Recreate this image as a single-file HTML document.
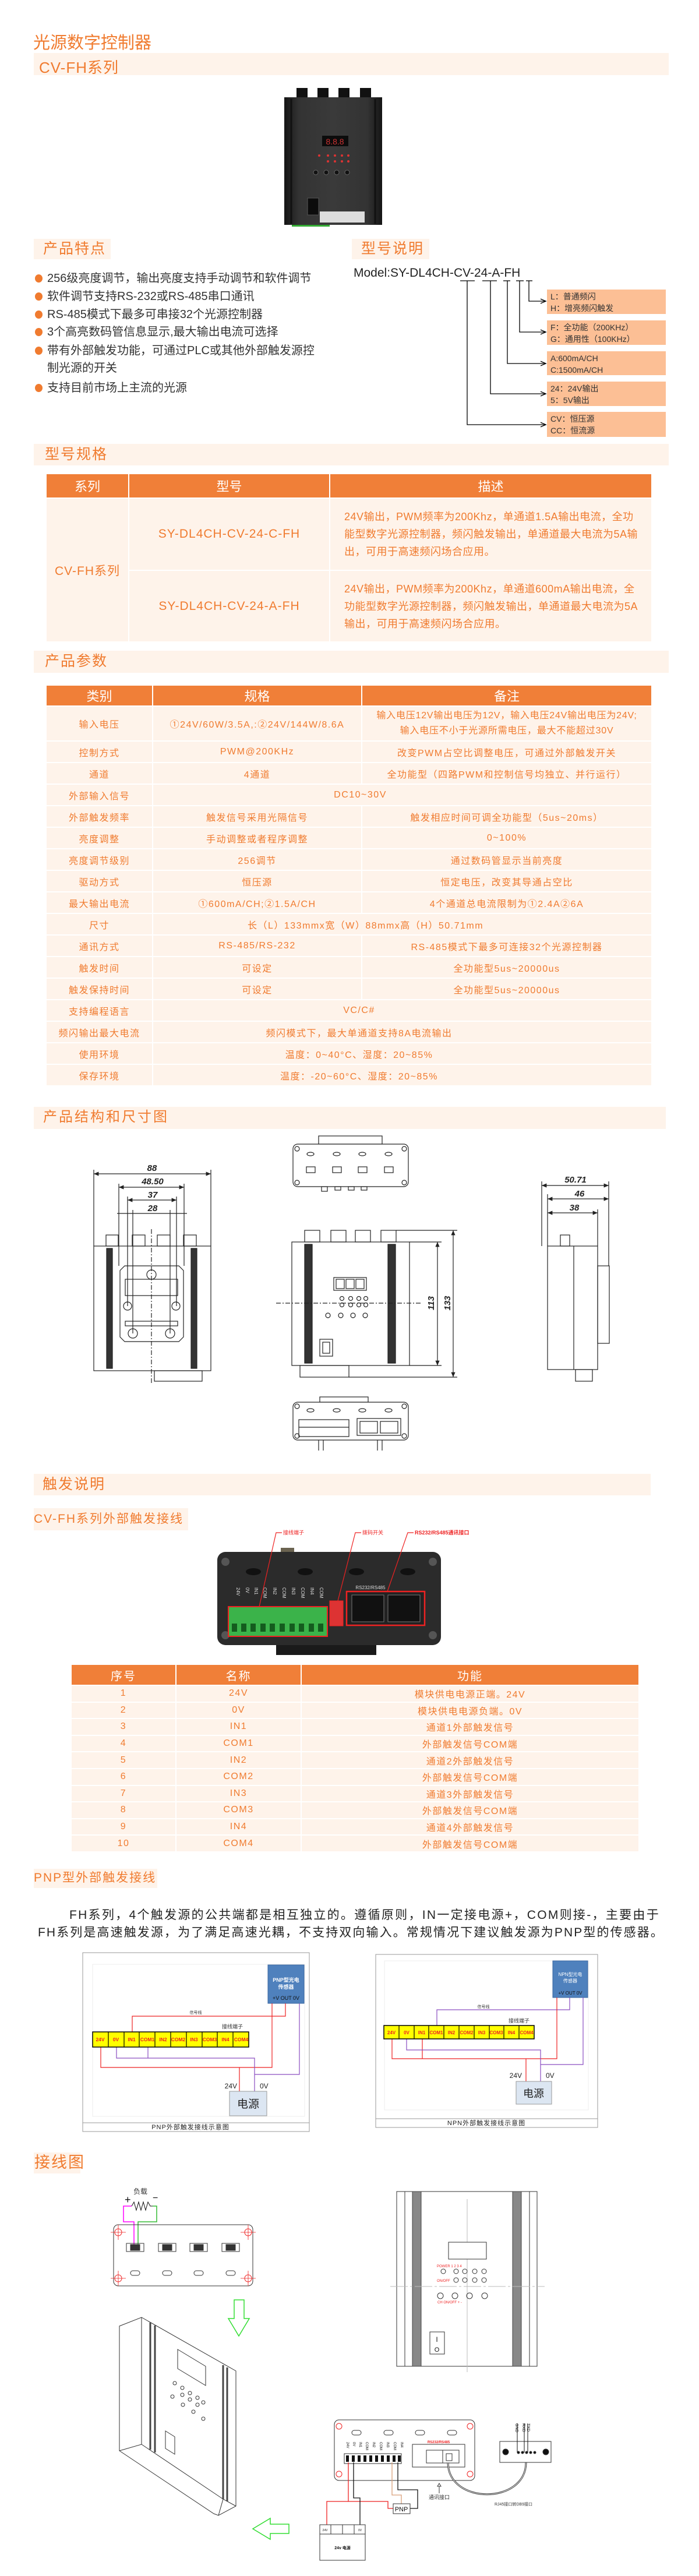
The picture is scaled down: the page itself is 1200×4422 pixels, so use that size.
<!DOCTYPE html>
<html><head><meta charset="utf-8">
<style>
*{margin:0;padding:0;box-sizing:border-box}
body{width:1200px;height:4422px;background:#fff;position:relative;overflow:hidden;font-family:"Liberation Sans","Noto Sans CJK SC",sans-serif;color:#f07b2f}
.a{position:absolute;white-space:nowrap}
.band{position:absolute;background:#fef3ea}
.bt{position:absolute;color:#f07b2f;font-size:25px;letter-spacing:2px;line-height:1}
.bul{position:absolute;left:60px;width:13px;height:14px;border-radius:50%;background:#f07b2f}
.btx{position:absolute;left:81px;font-size:20px;color:#333;white-space:nowrap;line-height:1}
.box{position:absolute;left:939px;width:204px;background:#fcbf95;color:#333;font-size:14px;line-height:20px;padding:2px 6px}
table{border-collapse:collapse;position:absolute;table-layout:fixed}
td,th{border:2px solid #fff;text-align:center;vertical-align:middle;color:#f07b2f;padding:0}
th{background:#f07f38;color:#fff;font-weight:normal}
td{background:#fef3ea}
#t2 td{font-size:15px;letter-spacing:1.2px}
#t3 td{font-size:16px;letter-spacing:1.5px}
</style></head><body>

<div class="a" style="left:57px;top:50px;font-size:29px;color:#f07b2f">光源数字控制器</div>
<div class="band" style="left:58px;top:91px;width:1090px;height:38px"></div>
<div class="a" style="left:67px;top:96px;font-size:26px;letter-spacing:1px">CV-FH系列</div>

<div class="band" style="left:58px;top:410px;width:132px;height:35px"></div>
<div class="bt" style="left:74px;top:415px">产品特点</div>
<div class="band" style="left:604px;top:410px;width:133px;height:35px"></div>
<div class="bt" style="left:620px;top:415px">型号说明</div>

<div class="bul" style="top:471px"></div><div class="btx" style="top:468px">256级亮度调节，输出亮度支持手动调节和软件调节</div>
<div class="bul" style="top:502px"></div><div class="btx" style="top:499px">软件调节支持RS-232或RS-485串口通讯</div>
<div class="bul" style="top:533px"></div><div class="btx" style="top:530px">RS-485模式下最多可串接32个光源控制器</div>
<div class="bul" style="top:563px"></div><div class="btx" style="top:560px">3个高亮数码管信息显示,最大输出电流可选择</div>
<div class="bul" style="top:595px"></div><div class="btx" style="top:592px">带有外部触发功能，可通过PLC或其他外部触发源控</div>
<div class="btx" style="top:622px">制光源的开关</div>
<div class="bul" style="top:659px"></div><div class="btx" style="top:656px">支持目前市场上主流的光源</div>

<div class="a" style="left:607px;top:457px;font-size:21px;color:#222">Model:SY-DL4CH-CV-24-A-FH</div>
<div class="box" style="top:497px;height:42px">L：普通频闪<br>H：增亮频闪触发</div>
<div class="box" style="top:550px;height:42px">F：全功能（200KHz）<br>G：通用性（100KHz）</div>
<div class="box" style="top:603px;height:41px">A:600mA/CH<br>C:1500mA/CH</div>
<div class="box" style="top:655px;height:42px">24：24V输出<br>5：5V输出</div>
<div class="box" style="top:707px;height:43px">CV：恒压源<br>CC：恒流源</div>

<div class="band" style="left:58px;top:762px;width:1090px;height:37px"></div>
<div class="bt" style="left:77px;top:768px">型号规格</div>
<table id="t2" style="left:78px;top:812px;width:1040px">
<colgroup><col style="width:142px"><col style="width:345px"><col style="width:553px"></colgroup>
<tr style="height:42px"><th style="font-size:22px">系列</th><th style="font-size:22px">型号</th><th style="font-size:22px">描述</th></tr>
<tr style="height:124px"><td rowspan="2" style="font-size:21px;letter-spacing:1px">CV-FH系列</td><td style="font-size:21px;letter-spacing:1px">SY-DL4CH-CV-24-C-FH</td><td style="text-align:left;padding:0 14px 0 24px;line-height:30px;font-size:18px;letter-spacing:.5px">24V输出，PWM频率为200Khz，单通道1.5A输出电流，全功能型数字光源控制器，频闪触发输出，单通道最大电流为5A输出，可用于高速频闪场合应用。</td></tr>
<tr style="height:123px"><td style="font-size:21px;letter-spacing:1px">SY-DL4CH-CV-24-A-FH</td><td style="text-align:left;padding:0 14px 0 24px;line-height:30px;font-size:18px;letter-spacing:.5px">24V输出，PWM频率为200Khz，单通道600mA输出电流，全功能型数字光源控制器，频闪触发输出，单通道最大电流为5A输出，可用于高速频闪场合应用。</td></tr>
</table>

<div class="band" style="left:58px;top:1117px;width:1090px;height:38px"></div>
<div class="bt" style="left:77px;top:1123px">产品参数</div>
<table id="t3" style="left:78px;top:1175px;width:1040px">
<colgroup><col style="width:183px"><col style="width:359px"><col style="width:498px"></colgroup>
<tr style="height:36px"><th style="font-size:22px">类别</th><th style="font-size:22px">规格</th><th style="font-size:22px">备注</th></tr>
<tr style="height:60px"><td>输入电压</td><td style="letter-spacing:1.5px">①24V/60W/3.5A,:②24V/144W/8.6A</td><td style="line-height:26px;letter-spacing:.8px">输入电压12V输出电压为12V，输入电压24V输出电压为24V;<br>输入电压不小于光源所需电压，最大不能超过30V</td></tr>
<tr style="height:37px"><td>控制方式</td><td>PWM@200KHz</td><td>改变PWM占空比调整电压，可通过外部触发开关</td></tr>
<tr style="height:37px"><td>通道</td><td>4通道</td><td>全功能型（四路PWM和控制信号均独立、并行运行）</td></tr>
<tr style="height:37px"><td>外部输入信号</td><td colspan="2" style="padding-right:144px">DC10~30V</td></tr>
<tr style="height:37px"><td>外部触发频率</td><td>触发信号采用光隔信号</td><td>触发相应时间可调全功能型（5us~20ms）</td></tr>
<tr style="height:37px"><td>亮度调整</td><td>手动调整或者程序调整</td><td>0~100%</td></tr>
<tr style="height:37px"><td>亮度调节级别</td><td>256调节</td><td>通过数码管显示当前亮度</td></tr>
<tr style="height:37px"><td>驱动方式</td><td>恒压源</td><td>恒定电压，改变其导通占空比</td></tr>
<tr style="height:37px"><td>最大输出电流</td><td>①600mA/CH;②1.5A/CH</td><td>4个通道总电流限制为①2.4A②6A</td></tr>
<tr style="height:37px"><td>尺寸</td><td colspan="2" style="padding-right:126px">长（L）133mmx宽（W）88mmx高（H）50.71mm</td></tr>
<tr style="height:37px"><td>通讯方式</td><td>RS-485/RS-232</td><td>RS-485模式下最多可连接32个光源控制器</td></tr>
<tr style="height:37px"><td>触发时间</td><td>可设定</td><td>全功能型5us~20000us</td></tr>
<tr style="height:37px"><td>触发保持时间</td><td>可设定</td><td>全功能型5us~20000us</td></tr>
<tr style="height:37px"><td>支持编程语言</td><td colspan="2" style="padding-right:148px">VC/C#</td></tr>
<tr style="height:37px"><td>频闪输出最大电流</td><td colspan="2" style="padding-right:148px">频闪模式下，最大单通道支持8A电流输出</td></tr>
<tr style="height:37px"><td>使用环境</td><td colspan="2" style="padding-right:148px">温度：0~40°C、湿度：20~85%</td></tr>
<tr style="height:37px"><td>保存环境</td><td colspan="2" style="padding-right:148px">温度：-20~60°C、湿度：20~85%</td></tr>
</table>

<div class="band" style="left:58px;top:1900px;width:1085px;height:38px"></div>
<div class="bt" style="left:74px;top:1906px;font-size:24px;letter-spacing:3px">产品结构和尺寸图</div>

<div class="band" style="left:58px;top:2530px;width:1059px;height:37px"></div>
<div class="bt" style="left:73px;top:2536px">触发说明</div>
<div class="band" style="left:58px;top:2589px;width:265px;height:38px"></div>
<div class="bt" style="left:58px;top:2597px;font-size:21px;letter-spacing:2px">CV-FH系列外部触发接线</div>

<table id="t3b" style="left:121px;top:2856px;width:975px">
<colgroup><col style="width:180px"><col style="width:215px"><col style="width:580px"></colgroup>
<tr style="height:36px"><th style="font-size:20px;letter-spacing:2px">序号</th><th style="font-size:20px;letter-spacing:2px">名称</th><th style="font-size:20px;letter-spacing:2px">功能</th></tr>
</table>
<table id="t3" style="left:121px;top:2892px;width:975px">
<colgroup><col style="width:180px"><col style="width:215px"><col style="width:580px"></colgroup>
<tr style="height:28.6px"><td>1</td><td>24V</td><td>模块供电电源正端。24V</td></tr>
<tr style="height:28.6px"><td>2</td><td>0V</td><td>模块供电电源负端。0V</td></tr>
<tr style="height:28.6px"><td>3</td><td>IN1</td><td>通道1外部触发信号</td></tr>
<tr style="height:28.6px"><td>4</td><td>COM1</td><td>外部触发信号COM端</td></tr>
<tr style="height:28.6px"><td>5</td><td>IN2</td><td>通道2外部触发信号</td></tr>
<tr style="height:28.6px"><td>6</td><td>COM2</td><td>外部触发信号COM端</td></tr>
<tr style="height:28.6px"><td>7</td><td>IN3</td><td>通道3外部触发信号</td></tr>
<tr style="height:28.6px"><td>8</td><td>COM3</td><td>外部触发信号COM端</td></tr>
<tr style="height:28.6px"><td>9</td><td>IN4</td><td>通道4外部触发信号</td></tr>
<tr style="height:28.6px"><td>10</td><td>COM4</td><td>外部触发信号COM端</td></tr>
</table>

<div class="band" style="left:58px;top:3208px;width:212px;height:33px"></div>
<div class="bt" style="left:58px;top:3213px;font-size:21px;letter-spacing:2px">PNP型外部触发接线</div>
<div class="a" style="left:119px;top:3271px;font-size:21px;letter-spacing:2.3px;color:#222">FH系列，4个触发源的公共端都是相互独立的。遵循原则，IN一定接电源+，COM则接-，主要由于</div>
<div class="a" style="left:65px;top:3301px;font-size:21px;letter-spacing:2.1px;color:#222">FH系列是高速触发源，为了满足高速光耦，不支持双向输入。常规情况下建议触发源为PNP型的传感器。</div>

<div class="band" style="left:58px;top:3695px;width:80px;height:36px"></div>
<div class="bt" style="left:59px;top:3699px;font-size:27px">接线图</div>

<svg class="a" style="left:0;top:0" width="1200" height="4422" viewBox="0 0 1200 4422" font-family="Liberation Sans, Noto Sans CJK SC, sans-serif">
<defs>
<linearGradient id="dk" x1="0" x2="1"><stop offset="0" stop-color="#151515"/><stop offset=".15" stop-color="#333"/><stop offset=".5" stop-color="#3a3a3a"/><stop offset=".85" stop-color="#333"/><stop offset="1" stop-color="#151515"/></linearGradient>
<marker id="ar" markerWidth="8" markerHeight="8" refX="7" refY="4" orient="auto"><path d="M0,1 L7,4 L0,7" fill="none" stroke="#000"/></marker>
<marker id="da" markerWidth="8" markerHeight="6" refX="7" refY="3" orient="auto-start-reverse"><path d="M0,0 L7,3 L0,6z" fill="#222"/></marker>
</defs>

<!-- product photo -->
<g>
<rect x="509" y="151" width="19" height="18" fill="#111"/><rect x="545" y="151" width="19" height="18" fill="#111"/><rect x="581" y="151" width="19" height="18" fill="#111"/><rect x="618" y="151" width="19" height="18" fill="#111"/>
<rect x="488" y="167" width="168" height="219" fill="url(#dk)"/>
<line x1="500" y1="170" x2="500" y2="384" stroke="#111" stroke-width="3"/><line x1="644" y1="170" x2="644" y2="384" stroke="#111" stroke-width="3"/>
<rect x="553" y="233" width="45" height="18" fill="#0c0c0c"/>
<text x="575" y="248" fill="#c33" font-size="14" text-anchor="middle">8.8.8</text>
<g fill="#d33"><circle cx="548" cy="267" r="2"/><circle cx="563" cy="267" r="2"/><circle cx="575" cy="267" r="2"/><circle cx="587" cy="267" r="2"/><circle cx="598" cy="267" r="2"/><circle cx="563" cy="277" r="2"/><circle cx="575" cy="277" r="2"/><circle cx="587" cy="277" r="2"/><circle cx="598" cy="277" r="2"/></g>
<g fill="#111" stroke="#666"><circle cx="542" cy="296" r="4"/><circle cx="560" cy="296" r="4"/><circle cx="578" cy="296" r="4"/><circle cx="596" cy="296" r="4"/></g>
<rect x="528" y="340" width="19" height="29" fill="#0c0c0c" stroke="#555"/>
<rect x="549" y="363" width="77" height="19" fill="#ddd"/>
<rect x="501" y="386" width="65" height="3" fill="#3a3"/>
</g>

<!-- model lines -->
<g stroke="#000" stroke-width="1.3" fill="none">
<line x1="790" y1="482" x2="815" y2="482"/><line x1="828" y1="482" x2="853" y2="482"/><line x1="864" y1="482" x2="876" y2="482"/><line x1="886" y1="482" x2="899" y2="482"/><line x1="903" y1="482" x2="914" y2="482"/>
<polyline points="908,482 908,517 937,517" marker-end="url(#ar)"/>
<polyline points="892,482 892,570 937,570" marker-end="url(#ar)"/>
<polyline points="871,482 871,624 937,624" marker-end="url(#ar)"/>
<polyline points="842,482 842,676 937,676" marker-end="url(#ar)"/>
<polyline points="802,482 802,729 937,729" marker-end="url(#ar)"/>
</g>

<!-- dimension drawings -->
<g stroke="#222" stroke-width="1.2" fill="none">
<!-- left front -->
<rect x="161" y="2139" width="201" height="214" fill="#fff"/>
<rect x="183" y="2143" width="10" height="206" fill="#333"/><rect x="328" y="2143" width="10" height="206" fill="#333"/>
<rect x="182" y="2120" width="21" height="19"/><rect x="227" y="2120" width="22" height="19"/><rect x="270" y="2120" width="22" height="19"/><rect x="315" y="2120" width="22" height="19"/>
<path d="M214,2173 H307 L315,2181 V2295 L307,2303 H214 L206,2295 V2181z"/>
<circle cx="260" cy="2188" r="8"/><circle cx="219" cy="2242" r="7"/><circle cx="302" cy="2242" r="7"/><circle cx="228" cy="2289" r="8"/><circle cx="292" cy="2289" r="8"/>
<rect x="215" y="2196" width="90" height="28"/><rect x="215" y="2268" width="90" height="8"/>
<rect x="265" y="2353" width="82" height="18"/>
<line x1="260" y1="2110" x2="260" y2="2375" stroke-dasharray="8,3,2,3"/>
<line x1="161" y1="2008" x2="161" y2="2139"/><line x1="362" y1="2008" x2="362" y2="2139"/>
<line x1="204" y1="2032" x2="204" y2="2173"/><line x1="316" y1="2032" x2="316" y2="2173"/>
<line x1="219" y1="2054" x2="219" y2="2242"/><line x1="303" y1="2054" x2="303" y2="2242"/>
<line x1="228" y1="2077" x2="228" y2="2289"/><line x1="292" y1="2077" x2="292" y2="2289"/>
<line x1="161" y1="2015" x2="362" y2="2015" marker-start="url(#da)" marker-end="url(#da)"/>
<line x1="204" y1="2038" x2="316" y2="2038" marker-start="url(#da)" marker-end="url(#da)"/>
<line x1="219" y1="2060" x2="303" y2="2060" marker-start="url(#da)" marker-end="url(#da)"/>
<line x1="201" y1="2083" x2="321" y2="2083"/>
<!-- top view -->
<rect x="547" y="1950" width="109" height="14"/>
<rect x="503" y="1964" width="198" height="73" rx="8" fill="#fff"/>
<circle cx="510" cy="1972" r="4"/><circle cx="694" cy="1972" r="4"/><circle cx="510" cy="2030" r="4"/><circle cx="694" cy="2030" r="4"/>
<ellipse cx="533" cy="1981" rx="6" ry="3"/><ellipse cx="578" cy="1981" rx="6" ry="3"/><ellipse cx="622" cy="1981" rx="6" ry="3"/><ellipse cx="667" cy="1981" rx="6" ry="3"/>
<rect x="526" y="2003" width="15" height="10"/><rect x="571" y="2003" width="15" height="10"/><rect x="615" y="2003" width="15" height="10"/><rect x="660" y="2003" width="15" height="10"/>
<rect x="552" y="2037" width="10" height="8"/><rect x="575" y="2037" width="10" height="6"/><rect x="598" y="2037" width="10" height="6"/><rect x="620" y="2037" width="10" height="6"/>
<!-- middle front -->
<rect x="501" y="2132" width="202" height="212" fill="#fff"/>
<rect x="523" y="2136" width="13" height="204" fill="#333"/><rect x="666" y="2136" width="13" height="204" fill="#333"/>
<rect x="523" y="2112" width="26" height="20"/><rect x="568" y="2112" width="26" height="20"/><rect x="610" y="2112" width="26" height="20"/><rect x="654" y="2112" width="26" height="20"/>
<rect x="573" y="2193" width="56" height="22"/><rect x="577" y="2196" width="14" height="16"/><rect x="594" y="2196" width="14" height="16"/><rect x="611" y="2196" width="14" height="16"/>
<circle cx="587" cy="2229" r="3.5"/><circle cx="602" cy="2229" r="3.5"/><circle cx="616" cy="2229" r="3.5"/><circle cx="628" cy="2229" r="3.5"/>
<circle cx="587" cy="2240" r="3.5"/><circle cx="602" cy="2240" r="3.5"/><circle cx="616" cy="2240" r="3.5"/><circle cx="628" cy="2240" r="3.5"/>
<circle cx="563" cy="2258" r="4"/><circle cx="585" cy="2258" r="4"/><circle cx="606" cy="2258" r="4"/><circle cx="627" cy="2258" r="4"/>
<rect x="549" y="2299" width="22" height="29"/><rect x="554" y="2304" width="12" height="19"/>
<rect x="515" y="2344" width="84" height="20"/>
<line x1="474" y1="2237" x2="722" y2="2237" stroke-dasharray="8,3,2,3"/>
<line x1="703" y1="2132" x2="758" y2="2132"/><line x1="703" y1="2344" x2="758" y2="2344"/>
<line x1="680" y1="2112" x2="785" y2="2112"/><line x1="599" y1="2364" x2="785" y2="2364"/>
<line x1="751" y1="2132" x2="751" y2="2344" marker-start="url(#da)" marker-end="url(#da)"/>
<line x1="778" y1="2112" x2="778" y2="2364" marker-start="url(#da)" marker-end="url(#da)"/>
<!-- right side -->
<rect x="940" y="2139" width="86" height="212" fill="#fff"/>
<line x1="985" y1="2139" x2="985" y2="2351"/>
<rect x="962" y="2120" width="16" height="19"/>
<rect x="1026" y="2173" width="20" height="133"/>
<rect x="988" y="2351" width="29" height="20"/>
<line x1="930" y1="2028" x2="930" y2="2139"/><line x1="1045" y1="2028" x2="1045" y2="2173"/><line x1="1026" y1="2076" x2="1026" y2="2139"/><line x1="940" y1="2050" x2="940" y2="2139"/>
<line x1="930" y1="2035" x2="1045" y2="2035" marker-start="url(#da)" marker-end="url(#da)"/>
<line x1="940" y1="2058" x2="1045" y2="2058" marker-start="url(#da)" marker-end="url(#da)"/>
<line x1="940" y1="2082" x2="1026" y2="2082" marker-start="url(#da)" marker-end="url(#da)"/>
<!-- bottom view -->
<rect x="549" y="2398" width="83" height="9"/>
<rect x="503" y="2407" width="198" height="65" rx="8" fill="#fff"/>
<line x1="547" y1="2472" x2="547" y2="2490"/><line x1="656" y1="2472" x2="656" y2="2490"/><line x1="555" y1="2472" x2="555" y2="2490"/><line x1="648" y1="2472" x2="648" y2="2490"/>
<circle cx="510" cy="2414" r="4"/><circle cx="694" cy="2414" r="4"/><circle cx="510" cy="2465" r="4"/><circle cx="694" cy="2465" r="4"/>
<ellipse cx="533" cy="2421" rx="6" ry="3"/><ellipse cx="578" cy="2421" rx="6" ry="3"/><ellipse cx="622" cy="2421" rx="6" ry="3"/><ellipse cx="667" cy="2421" rx="6" ry="3"/>
<rect x="513" y="2437" width="86" height="29"/><line x1="513" y1="2450" x2="599" y2="2450"/>
<rect x="613" y="2435" width="75" height="29"/><rect x="618" y="2440" width="30" height="20"/><rect x="653" y="2440" width="30" height="20"/>
</g>
<g font-size="15" font-style="italic" font-weight="bold" fill="#222" text-anchor="middle">
<text x="261" y="2010">88</text><text x="262" y="2033">48.50</text><text x="262" y="2056">37</text><text x="262" y="2079">28</text>
<text x="988" y="2030">50.71</text><text x="995" y="2054">46</text><text x="986" y="2078">38</text>
<text transform="translate(745,2237) rotate(-90)">113</text><text transform="translate(773,2237) rotate(-90)">133</text>
</g>

<!-- trigger photo -->
<g>
<rect x="482" y="2657" width="23" height="10" fill="#6b6350"/>
<rect x="373" y="2664" width="384" height="160" rx="14" fill="#2b2b2b"/>
<rect x="474" y="2824" width="172" height="17" fill="#1a1a1a"/>
<g fill="#111"><ellipse cx="435" cy="2698" rx="13" ry="6"/><ellipse cx="524" cy="2698" rx="13" ry="6"/><ellipse cx="612" cy="2698" rx="13" ry="6"/><ellipse cx="700" cy="2698" rx="13" ry="6"/></g>
<g fill="#555"><circle cx="387" cy="2681" r="7"/><circle cx="743" cy="2681" r="7"/><circle cx="387" cy="2807" r="7"/><circle cx="743" cy="2807" r="7"/></g>
<rect x="392" y="2758" width="170" height="51" fill="#3bb34a" stroke="#e22" stroke-width="2"/>
<g fill="#145c1e"><rect x="398" y="2787" width="9" height="14"/><rect x="414" y="2787" width="9" height="14"/><rect x="430" y="2787" width="9" height="14"/><rect x="447" y="2787" width="9" height="14"/><rect x="463" y="2787" width="9" height="14"/><rect x="480" y="2787" width="9" height="14"/><rect x="497" y="2787" width="9" height="14"/><rect x="513" y="2787" width="9" height="14"/><rect x="530" y="2787" width="9" height="14"/><rect x="546" y="2787" width="9" height="14"/></g>
<rect x="566" y="2748" width="23" height="43" fill="#d33" stroke="#e22"/>
<rect x="595" y="2732" width="134" height="58" fill="#222" stroke="#e22" stroke-width="2.5"/>
<rect x="604" y="2738" width="55" height="46" fill="#111" stroke="#777"/><rect x="666" y="2738" width="55" height="46" fill="#111" stroke="#777"/>
<g fill="#ddd" font-size="8"><text x="636" y="2728" text-anchor="middle">RS232/RS485</text>
<text transform="translate(406,2725) rotate(90)">24V</text><text transform="translate(422,2725) rotate(90)">0V</text><text transform="translate(437,2725) rotate(90)">IN1</text><text transform="translate(452,2725) rotate(90)">COM</text><text transform="translate(469,2725) rotate(90)">IN2</text><text transform="translate(485,2725) rotate(90)">COM</text><text transform="translate(501,2725) rotate(90)">IN3</text><text transform="translate(517,2725) rotate(90)">COM</text><text transform="translate(533,2725) rotate(90)">IN4</text><text transform="translate(549,2725) rotate(90)">COM</text></g>
<g stroke="#e22" stroke-width="1.2" fill="none"><polyline points="484,2631 474,2631 445,2758"/><polyline points="620,2631 610,2631 580,2748"/><polyline points="710,2631 700,2631 665,2732"/></g>
<g fill="#e22" font-size="9"><text x="486" y="2634">接线端子</text><text x="622" y="2634">拨码开关</text><text x="712" y="2634" font-weight="bold">RS232/RS485通讯接口</text></g>
</g>

<!-- PNP diagram -->
<g>
<rect x="142" y="3352" width="389" height="307" fill="#fff" stroke="#999"/>
<line x1="142" y1="3644" x2="531" y2="3644" stroke="#999"/>
<rect x="159" y="3372" width="364" height="261" fill="none" stroke="#eee"/>
<rect x="460" y="3373" width="62" height="66" fill="#4f81bd" stroke="#3a66a0"/>
<g fill="#fff" font-size="9" font-weight="bold" text-anchor="middle"><text x="491" y="3402">PNP型光电</text><text x="491" y="3414">传感器</text><text x="491" y="3433" font-weight="normal" fill="#111">+V  OUT  0V</text></g>
<g fill="none" stroke-width="1.2">
<polyline points="227,3488 227,3461 490,3461 490,3439" stroke="#e22"/>
<polyline points="467,3439 467,3549 173,3549 173,3514" stroke="#e22"/>
<polyline points="411,3549 411,3590" stroke="#e22"/>
<polyline points="200,3514 200,3533 437,3533 437,3590" stroke="#8a4ec0"/>
<polyline points="254,3514 254,3533" stroke="#8a4ec0"/>
<polyline points="514,3439 514,3561 437,3561" stroke="#8a4ec0"/>
</g>
<g id="ts" font-size="8.5" font-weight="bold" fill="#e22" text-anchor="middle">
<rect x="159" y="3488" width="268" height="26" fill="#ff0" stroke="#000" stroke-width="1.5"/>
<g stroke="#000" stroke-width="1.2"><line x1="186" y1="3488" x2="186" y2="3514"/><line x1="213" y1="3488" x2="213" y2="3514"/><line x1="239" y1="3488" x2="239" y2="3514"/><line x1="266" y1="3488" x2="266" y2="3514"/><line x1="293" y1="3488" x2="293" y2="3514"/><line x1="320" y1="3488" x2="320" y2="3514"/><line x1="347" y1="3488" x2="347" y2="3514"/><line x1="373" y1="3488" x2="373" y2="3514"/><line x1="400" y1="3488" x2="400" y2="3514"/></g>
<text x="172" y="3504">24V</text><text x="199" y="3504">0V</text><text x="226" y="3504">IN1</text><text x="253" y="3504">COM1</text><text x="280" y="3504">IN2</text><text x="306" y="3504">COM2</text><text x="333" y="3504">IN3</text><text x="360" y="3504">COM3</text><text x="387" y="3504">IN4</text><text x="414" y="3504">COM4</text>
</g>
<text x="336" y="3457" font-size="7" fill="#333" text-anchor="middle">信号线</text>
<text x="399" y="3482" font-size="9" fill="#333" text-anchor="middle">接线端子</text>
<rect x="394" y="3590" width="64" height="42" fill="#dce6f2" stroke="#999"/>
<text x="426" y="3618" font-size="19" fill="#222" text-anchor="middle">电源</text>
<text x="407" y="3585" font-size="12" fill="#222" text-anchor="end">24V</text><text x="446" y="3585" font-size="12" fill="#222">0V</text>
<text x="327" y="3655" font-size="11" fill="#222" text-anchor="middle" letter-spacing="1">PNP外部触发接线示意图</text>
</g>

<!-- NPN diagram -->
<g>
<rect x="645" y="3355" width="381" height="297" fill="#fff" stroke="#999"/>
<line x1="645" y1="3637" x2="1026" y2="3637" stroke="#999"/>
<rect x="660" y="3366" width="350" height="256" fill="none" stroke="#eee"/>
<rect x="949" y="3366" width="60" height="63" fill="#4f81bd" stroke="#3a66a0"/>
<g fill="#fff" font-size="8" text-anchor="middle"><text x="979" y="3392">NPN型光电</text><text x="979" y="3403">传感器</text><text x="979" y="3424" fill="#111">+V  OUT  0V</text></g>
<g fill="none" stroke-width="1.2">
<polyline points="750,3477 750,3450 978,3450 978,3429" stroke="#8a4ec0"/>
<polyline points="673,3500 673,3534 956,3534 956,3429" stroke="#e22"/>
<polyline points="725,3500 725,3534" stroke="#e22"/>
<polyline points="903,3534 903,3573" stroke="#e22"/>
<polyline points="698,3500 698,3519 928,3519 928,3573" stroke="#8a4ec0"/>
<polyline points="1001,3429 1001,3544 928,3544" stroke="#8a4ec0"/>
</g>
<g font-size="8" font-weight="bold" fill="#e22" text-anchor="middle">
<rect x="659" y="3477" width="258" height="23" fill="#ff0" stroke="#000" stroke-width="1.5"/>
<g stroke="#000" stroke-width="1.2"><line x1="685" y1="3477" x2="685" y2="3500"/><line x1="711" y1="3477" x2="711" y2="3500"/><line x1="736" y1="3477" x2="736" y2="3500"/><line x1="762" y1="3477" x2="762" y2="3500"/><line x1="788" y1="3477" x2="788" y2="3500"/><line x1="814" y1="3477" x2="814" y2="3500"/><line x1="840" y1="3477" x2="840" y2="3500"/><line x1="865" y1="3477" x2="865" y2="3500"/><line x1="891" y1="3477" x2="891" y2="3500"/></g>
<text x="672" y="3492">24V</text><text x="698" y="3492">0V</text><text x="724" y="3492">IN1</text><text x="749" y="3492">COM1</text><text x="775" y="3492">IN2</text><text x="801" y="3492">COM2</text><text x="827" y="3492">IN3</text><text x="852" y="3492">COM3</text><text x="878" y="3492">IN4</text><text x="904" y="3492">COM4</text>
</g>
<text x="830" y="3447" font-size="7" fill="#333" text-anchor="middle">信号线</text>
<text x="891" y="3472" font-size="9" fill="#333" text-anchor="middle">接线端子</text>
<rect x="886" y="3573" width="61" height="39" fill="#dce6f2" stroke="#999"/>
<text x="916" y="3600" font-size="18" fill="#222" text-anchor="middle">电源</text>
<text x="896" y="3567" font-size="12" fill="#222" text-anchor="end">24V</text><text x="937" y="3567" font-size="12" fill="#222">0V</text>
<text x="835" y="3648" font-size="11" fill="#222" text-anchor="middle" letter-spacing="1">NPN外部触发接线示意图</text>
</g>

<!-- wiring drawings -->
<g fill="none" stroke="#333" stroke-width="1">
<text x="241" y="3766" font-size="12" fill="#333" stroke="none" text-anchor="middle">负载</text>
<text x="214" y="3782" font-size="18" fill="#111" stroke="none">+</text><text x="262" y="3778" font-size="16" fill="#111" stroke="none">−</text>
<polyline points="226,3787 230,3780 234,3794 238,3780 242,3794 246,3780 250,3794 254,3780 258,3787 262,3787" stroke="#111"/>
<polyline points="226,3787 212,3787 212,3814 230,3814 230,3862" stroke="#f0f" stroke-width="1.5"/>
<polyline points="262,3787 269,3787 269,3814 237,3814 237,3862" stroke="#3b3" stroke-width="1.5"/>
<rect x="195" y="3819" width="239" height="105" rx="8"/>
<g stroke="#e22"><circle cx="203" cy="3832" r="6"/><circle cx="426" cy="3832" r="6"/><circle cx="203" cy="3911" r="6"/><circle cx="426" cy="3911" r="6"/>
<path d="M190,3832h26M203,3819v26M413,3832h26M426,3819v26M190,3911h26M203,3898v26M413,3911h26M426,3898v26" stroke-width=".8"/></g>
<rect x="217" y="3851" width="30" height="14"/><rect x="272" y="3851" width="30" height="14"/><rect x="326" y="3851" width="30" height="14"/><rect x="381" y="3851" width="30" height="14"/>
<rect x="224" y="3853" width="16" height="10" fill="#333"/><rect x="279" y="3853" width="16" height="10" fill="#333"/><rect x="333" y="3853" width="16" height="10" fill="#333"/><rect x="388" y="3853" width="16" height="10" fill="#333"/>
<rect x="224" y="3898" width="16" height="8" rx="4"/><rect x="279" y="3898" width="16" height="8" rx="4"/><rect x="333" y="3898" width="16" height="8" rx="4"/><rect x="388" y="3898" width="16" height="8" rx="4"/>
<path d="M402,3948 h17 v32 h9 l-18,30 l-18,-30 h10z" stroke="#3d3" stroke-width="1.5"/>
<!-- isometric -->
<path d="M205,3993 L243,3978 L405,4070 L405,4302 L375,4318 L367,4315 L205,4207 Z" fill="#fff"/>
<path d="M243,3978 L243,4196 M205,4207 L243,4196 L383,4290 L405,4302 M375,4318 L383,4290"/>
<path d="M258,3987 L258,4205 M266,3992 L266,4210 M383,4060 L383,4290 M390,4064 L390,4294" stroke-width="3" stroke="#444"/>
<path d="M305,4033 L353,4062 L353,4095 L305,4066 Z"/>
<g><circle cx="300" cy="4091" r="3"/><circle cx="313" cy="4099" r="3"/><circle cx="326" cy="4108" r="3"/><circle cx="339" cy="4116" r="3"/><circle cx="349" cy="4124" r="3"/><circle cx="313" cy="4111" r="3"/><circle cx="326" cy="4119" r="3"/><circle cx="339" cy="4128" r="3"/><circle cx="296" cy="4114" r="3"/><circle cx="314" cy="4128" r="3"/><circle cx="332" cy="4140" r="3"/><circle cx="349" cy="4152" r="3"/></g>
<path d="M284,4173 L300,4183 L300,4213 L284,4203 Z"/>
<path d="M496,4333 h-32 v-10 l-30,18 l30,18 v-10 h32z" stroke="#3d3" stroke-width="1.5"/>
<!-- right front view -->
<rect x="681" y="3762" width="241" height="300"/>
<line x1="695" y1="3762" x2="695" y2="4062"/><line x1="909" y1="3762" x2="909" y2="4062"/>
<rect x="708" y="3762" width="15" height="300" fill="#888" stroke="#444"/><rect x="880" y="3762" width="15" height="300" fill="#888" stroke="#444"/>
<line x1="802" y1="3775" x2="802" y2="4072" stroke="#bbb"/><line x1="670" y1="3925" x2="935" y2="3925" stroke="#bbb" stroke-dasharray="30,4,4,4"/>
<rect x="770" y="3849" width="65" height="29" fill="#fff"/>
<circle cx="761" cy="3899" r="4"/><circle cx="783" cy="3899" r="4"/><circle cx="798" cy="3899" r="4"/><circle cx="815" cy="3899" r="4"/><circle cx="831" cy="3899" r="4"/>
<circle cx="783" cy="3914" r="4"/><circle cx="798" cy="3914" r="4"/><circle cx="815" cy="3914" r="4"/><circle cx="831" cy="3914" r="4"/>
<circle cx="756" cy="3941" r="5"/><circle cx="781" cy="3941" r="5"/><circle cx="806" cy="3941" r="5"/><circle cx="832" cy="3941" r="5"/>
<rect x="738" y="4003" width="25" height="38" fill="#fff"/>
<text x="750" y="4020" font-size="12" fill="#111" stroke="none" text-anchor="middle">I</text><text x="750" y="4037" font-size="11" fill="#111" stroke="none" text-anchor="middle">O</text>
<g font-size="6" fill="#e22" stroke="none"><text x="750" y="3892">POWER  1   2   3   4</text><text x="750" y="3917">ON/OFF</text><text x="751" y="3954">CH    ON/OFF   +       -</text></g>
<!-- bottom wiring -->
<rect x="574" y="4154" width="241" height="104" rx="8"/>
<g stroke="#e22"><circle cx="582" cy="4165" r="5"/><circle cx="807" cy="4165" r="5"/><circle cx="582" cy="4247" r="5"/><circle cx="807" cy="4247" r="5"/></g>
<rect x="604" y="4172" width="16" height="8" rx="4"/><rect x="659" y="4172" width="16" height="8" rx="4"/><rect x="713" y="4172" width="16" height="8" rx="4"/><rect x="768" y="4172" width="16" height="8" rx="4"/>
<rect x="591" y="4212" width="98" height="17"/>
<g fill="#111" stroke="none"><rect x="594" y="4215" width="5" height="11"/><rect x="604" y="4215" width="5" height="11"/><rect x="614" y="4215" width="5" height="11"/><rect x="624" y="4215" width="5" height="11"/><rect x="634" y="4215" width="5" height="11"/><rect x="644" y="4215" width="5" height="11"/><rect x="654" y="4215" width="5" height="11"/><rect x="664" y="4215" width="5" height="11"/><rect x="674" y="4215" width="5" height="11"/><rect x="683" y="4215" width="5" height="11"/></g>
<g font-size="6" fill="#111" stroke="none"><text transform="translate(595,4192) rotate(90)">24V</text><text transform="translate(606,4192) rotate(90)">0V</text><text transform="translate(617,4192) rotate(90)">IN1</text><text transform="translate(628,4192) rotate(90)">COM</text><text transform="translate(640,4192) rotate(90)">IN2</text><text transform="translate(652,4192) rotate(90)">COM</text><text transform="translate(664,4192) rotate(90)">IN3</text><text transform="translate(676,4192) rotate(90)">COM</text><text transform="translate(688,4192) rotate(90)">IN4</text></g>
<rect x="708" y="4196" width="90" height="39"/><rect x="732" y="4206" width="28" height="22"/><rect x="760" y="4206" width="28" height="22"/><rect x="766" y="4212" width="10" height="12"/>
<text x="753" y="4194" font-size="6" fill="#e22" stroke="none" text-anchor="middle" font-weight="bold">RS232/RS485</text>
<path d="M769,4227 C769,4300 903,4300 903,4227" stroke-width="3"/><path d="M769,4227 C769,4300 903,4300 903,4227" stroke="#fff" stroke-width="1"/>
<rect x="858" y="4191" width="88" height="36"/>
<circle cx="868" cy="4209" r="5" fill="#111"/><circle cx="937" cy="4209" r="5" fill="#111"/>
<g fill="#111"><circle cx="890" cy="4210" r="2"/><circle cx="897" cy="4210" r="2"/><circle cx="904" cy="4210" r="2"/><circle cx="911" cy="4210" r="2"/><circle cx="918" cy="4210" r="2"/></g>
<path d="M888,4160v50M900,4160v50M906,4160v50" stroke="#111"/>
<g font-size="7" fill="#111" stroke="none"><text transform="translate(885,4160) rotate(90)">GND</text><text transform="translate(897,4160) rotate(90)">RXD</text><text transform="translate(905,4160) rotate(90)">TXD</text></g>
<text x="849" y="4301" font-size="7" fill="#333" stroke="none">RJ45接口转DB9接口</text>
<text x="736" y="4290" font-size="9" fill="#333" stroke="none">通讯接口</text>
<path d="M754,4280 v-12 h-3 l3,-5 l3,5 h-3"/>
<polyline points="598,4227 598,4294 666,4294 666,4306 675,4306" stroke="#e22" stroke-width="1.3"/>
<polyline points="598,4294 561,4294 561,4334" stroke="#e22" stroke-width="1.3"/>
<polyline points="607,4227 607,4288 618,4288 618,4334" stroke="#111" stroke-width="1.3"/>
<polyline points="683,4227 683,4274 717,4274 717,4306 704,4306" stroke="#111" stroke-width="1.3"/>
<polyline points="673,4227 673,4283 689,4283 689,4298" stroke="#d9a07a" stroke-width="1.3"/>
<rect x="675" y="4298" width="29" height="17" fill="#fff"/>
<text x="689" y="4311" font-size="11" fill="#111" stroke="none" text-anchor="middle">PNP</text>
<rect x="549" y="4334" width="78" height="61" fill="#fff"/><line x1="549" y1="4350" x2="627" y2="4350"/>
<path d="M568,4334v16M588,4334v16M608,4334v16"/>
<text x="558" y="4345" font-size="5" fill="#111" stroke="none" text-anchor="middle">24V</text><text x="618" y="4345" font-size="5" fill="#111" stroke="none" text-anchor="middle">0V</text>
<text x="588" y="4376" font-size="7" fill="#111" stroke="none" text-anchor="middle" font-weight="bold">24v 电源</text>
</g>
</svg>
</body></html>
